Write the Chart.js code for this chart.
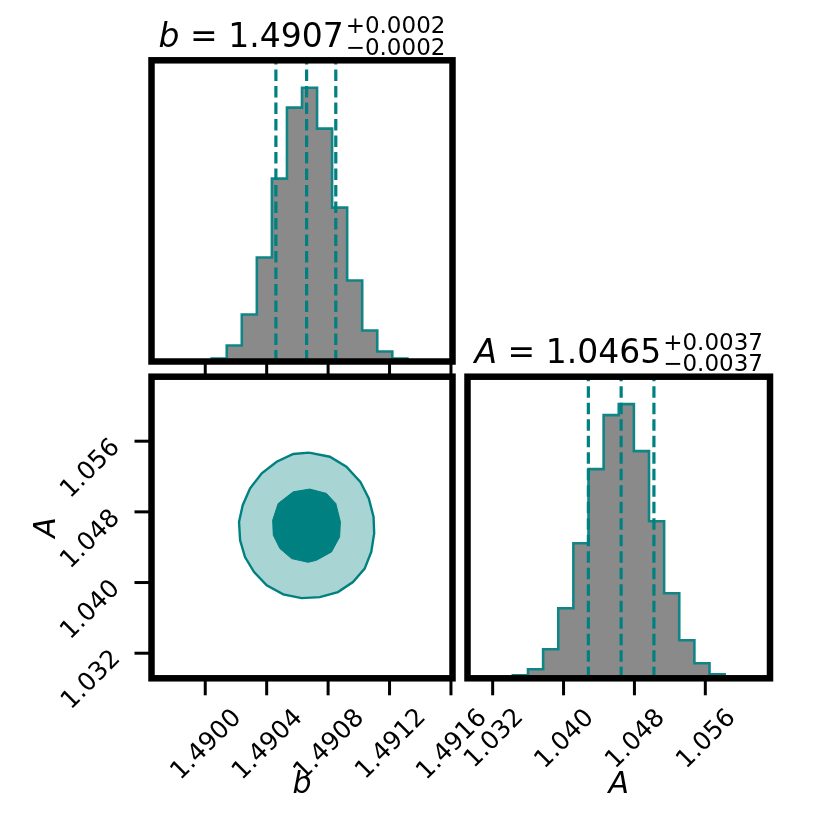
<!DOCTYPE html>
<html lang="en">
<head>
<meta charset="UTF-8">
<title>Corner plot</title>
<script src="https://cdn.jsdelivr.net/npm/chart.js"></script>
<style>
  body { margin: 0; background: #fff; }
  #wrap { position: relative; width: 830px; height: 830px; }
  #wrap canvas { position: absolute; left: 0; top: 0; }
</style>
</head>
<body>
<div id="wrap">
  <canvas id="histB" width="830" height="830"></canvas>
  <canvas id="contour" width="830" height="830"></canvas>
  <canvas id="histA" width="830" height="830"></canvas>
</div>
<script>
// axis ranges and ticks
const bRange = [1.48965, 1.49161];
const aRange = [1.02916, 1.06330];
const bTickValues = [1.4900, 1.4904, 1.4908, 1.4912, 1.4916];
const bTickLabels = ['1.4900', '1.4904', '1.4908', '1.4912', '1.4916'];
const aTickValues = [1.032, 1.040, 1.048, 1.056];
const aTickLabels = ['1.032', '1.040', '1.048', '1.056'];

// 1D histograms, 20 bins over each range
const bCounts = [0, 0, 0, 0, 3, 16, 47, 104, 183, 254, 274, 233, 154, 81, 31, 10, 3, 0, 0, 0];
const aCounts = [0, 0, 0, 3, 9, 29, 70, 135, 209, 263, 274, 227, 157, 85, 38, 15, 4, 0, 0, 0];

// 16/50/84 percent quantiles
const bQuantiles = [1.49046, 1.49066, 1.49085];
const aQuantiles = [1.0428, 1.0465, 1.0502];

// 2D contour outlines (b, A)
const outerB = [1.490676, 1.490573, 1.490465, 1.490368, 1.490292, 1.490244, 1.490220, 1.490227,
                1.490259, 1.490318, 1.490400, 1.490508, 1.490627, 1.490746, 1.490864, 1.490962,
                1.491038, 1.491081, 1.491100, 1.491096, 1.491065, 1.491010, 1.490919, 1.490811];
const outerA = [1.05470, 1.05455, 1.05367, 1.05236, 1.05066, 1.04876, 1.04687, 1.04479,
                1.04289, 1.04119, 1.03968, 1.03866, 1.03824, 1.03835, 1.03892, 1.04006,
                1.04158, 1.04346, 1.04555, 1.04743, 1.04952, 1.05140, 1.05311, 1.05424];
const innerB = [1.490573, 1.490681, 1.490789, 1.490850, 1.490880, 1.490875, 1.490822,
                1.490724, 1.490670, 1.490562, 1.490486, 1.490443, 1.490439, 1.490475];
const innerA = [1.05027, 1.05058, 1.05009, 1.04895, 1.04687, 1.04516, 1.04346,
                1.04252, 1.04229, 1.04271, 1.04385, 1.04536, 1.04706, 1.04895];

const bTitle = {name: 'b', value: '1.4907', plus: '0.0002', minus: '0.0002'};
const aTitle = {name: 'A', value: '1.0465', plus: '0.0037', minus: '0.0037'};

const FONT = '"DejaVu Sans", sans-serif';
const TEAL = '#008080';
const STEP_TEAL = '#118585';
const LIGHT_TEAL = '#a9d4d4';
const HIST_FILL = '#8a8a8a';

function stepPoints(counts, lo, hi) {
  const w = (hi - lo) / counts.length;
  const pts = counts.map((c, i) => ({x: lo + i * w, y: c}));
  pts.push({x: hi, y: counts[counts.length - 1]});
  return pts;
}

function closedShape(xs, ys) {
  const pts = xs.map((v, i) => ({x: v, y: ys[i]}));
  pts.push(pts[0]);
  return pts;
}

function rotSize(ctx, text) {
  const m = ctx.measureText(text);
  const w = m.actualBoundingBoxLeft + m.actualBoundingBoxRight;
  const h = m.actualBoundingBoxAscent + m.actualBoundingBoxDescent;
  return (w + h) * Math.SQRT1_2;
}

// text rotated 45deg with its ink centred on (cx, cy)
function drawRotated(ctx, text, cx, cy) {
  ctx.save();
  ctx.textAlign = 'left';
  ctx.textBaseline = 'alphabetic';
  const m = ctx.measureText(text);
  const inkW = m.actualBoundingBoxLeft + m.actualBoundingBoxRight;
  ctx.translate(cx, cy);
  ctx.rotate(-Math.PI / 4);
  ctx.fillText(text, m.actualBoundingBoxLeft - inkW / 2,
               (m.actualBoundingBoxAscent - m.actualBoundingBoxDescent) / 2);
  ctx.restore();
}

function drawTitle(ctx, a, t) {
  const it = 'italic 33px ' + FONT, big = '33px ' + FONT, small = '23px ' + FONT;
  ctx.font = it;
  const w1 = ctx.measureText(t.name).width;
  ctx.font = big;
  const rest = ' = ' + t.value;
  const w2 = ctx.measureText(rest).width;
  ctx.font = small;
  const sup = '+' + t.plus, sub = '\u2212' + t.minus;
  const w3 = Math.max(ctx.measureText(sup).width, ctx.measureText(sub).width);
  const gap = 2;
  let x = (a.left + a.right) / 2 - (w1 + w2 + gap + w3) / 2;
  const base = a.top - 13.6;
  ctx.textAlign = 'left';
  ctx.textBaseline = 'alphabetic';
  ctx.font = it;
  ctx.fillText(t.name, x, base);
  x += w1;
  ctx.font = big;
  ctx.fillText(rest, x, base);
  x += w2 + gap;
  ctx.font = small;
  ctx.fillText(sup, x, base - 13.4);
  ctx.fillText(sub, x, base + 8.3);
}

// frame, ticks, tick labels and titles for one panel
function makeDeco(cfg) {
  return {
    id: 'cornerDeco',
    afterDraw(chart) {
      const {ctx, chartArea: a} = chart;
      const x = chart.scales.x, y = chart.scales.y;
      ctx.save();
      ctx.strokeStyle = '#000';
      ctx.fillStyle = '#000';
      ctx.lineWidth = 3;
      (cfg.xTicks || []).forEach(v => {
        const px = x.getPixelForValue(v);
        ctx.beginPath(); ctx.moveTo(px, a.bottom); ctx.lineTo(px, a.bottom + 17); ctx.stroke();
      });
      (cfg.yTicks || []).forEach(v => {
        const py = y.getPixelForValue(v);
        ctx.beginPath(); ctx.moveTo(a.left, py); ctx.lineTo(a.left - 17, py); ctx.stroke();
      });
      ctx.lineWidth = 6.5;
      ctx.strokeRect(a.left, a.top, a.right - a.left, a.bottom - a.top);

      ctx.font = '25px ' + FONT;
      if (cfg.xLabels) {
        cfg.xTicks.forEach((v, i) => {
          const s = rotSize(ctx, cfg.xLabels[i]);
          drawRotated(ctx, cfg.xLabels[i], x.getPixelForValue(v), a.bottom + 28.4 + s / 2);
        });
      }
      if (cfg.yLabels) {
        cfg.yTicks.forEach((v, i) => {
          const s = rotSize(ctx, cfg.yLabels[i]);
          drawRotated(ctx, cfg.yLabels[i], a.left - 31.5 - s / 2, y.getPixelForValue(v) - 5 + s / 2);
        });
      }
      ctx.font = 'italic 30px ' + FONT;
      ctx.textAlign = 'center';
      ctx.textBaseline = 'alphabetic';
      if (cfg.xTitle) ctx.fillText(cfg.xTitle, (a.left + a.right) / 2, a.bottom + 114.7);
      if (cfg.yTitle) {
        ctx.save();
        ctx.translate(a.left - 96.5, (a.top + a.bottom) / 2);
        ctx.rotate(-Math.PI / 2);
        ctx.fillText(cfg.yTitle, 0, 0);
        ctx.restore();
      }
      if (cfg.title) drawTitle(ctx, a, cfg.title);
      ctx.restore();
    }
  };
}

function baseOptions(pad, xr, yr) {
  return {
    responsive: false,
    animation: false,
    events: [],
    layout: {padding: pad},
    scales: {
      x: {type: 'linear', min: xr[0], max: xr[1], display: false},
      y: {type: 'linear', min: yr[0], max: yr[1], display: false}
    },
    plugins: {legend: {display: false}, tooltip: {enabled: false}}
  };
}

function histChart(id, counts, range, quant, pad, deco) {
  const top = Math.max(...counts) * 1.1;
  const datasets = [{
    data: stepPoints(counts, range[0], range[1]),
    stepped: 'before',
    fill: 'origin',
    backgroundColor: HIST_FILL,
    borderColor: STEP_TEAL,
    borderWidth: 2.6,
    pointRadius: 0,
    order: 1
  }];
  quant.forEach(q => datasets.push({
    data: [{x: q, y: 0}, {x: q, y: top}],
    borderColor: TEAL,
    borderWidth: 3.2,
    borderDash: [11.5, 5],
    pointRadius: 0,
    fill: false,
    order: 0
  }));
  return new Chart(document.getElementById(id), {
    type: 'line',
    data: {datasets},
    options: baseOptions(pad, range, [0, top]),
    plugins: [makeDeco(deco)]
  });
}

histChart('histB', bCounts, bRange, bQuantiles,
  {left: 151.5, top: 60.3, right: 377.5, bottom: 468.5},
  {xTicks: bTickValues, title: bTitle});

histChart('histA', aCounts, aRange, aQuantiles,
  {left: 467.5, top: 376.7, right: 60, bottom: 151.7},
  {xTicks: aTickValues, xLabels: aTickLabels, xTitle: 'A', title: aTitle});

new Chart(document.getElementById('contour'), {
  type: 'line',
  data: {
    datasets: [
      {data: closedShape(innerB, innerA), fill: 'shape', backgroundColor: TEAL,
       borderColor: TEAL, borderWidth: 1, pointRadius: 0, order: 0},
      {data: closedShape(outerB, outerA), fill: 'shape', backgroundColor: LIGHT_TEAL,
       borderColor: TEAL, borderWidth: 2.4, pointRadius: 0, order: 1}
    ]
  },
  options: baseOptions({left: 151.5, top: 376.7, right: 377.5, bottom: 151.7}, bRange, aRange),
  plugins: [makeDeco({xTicks: bTickValues, xLabels: bTickLabels, yTicks: aTickValues,
                      yLabels: aTickLabels, xTitle: 'b', yTitle: 'A'})]
});
</script>
</body>
</html>
